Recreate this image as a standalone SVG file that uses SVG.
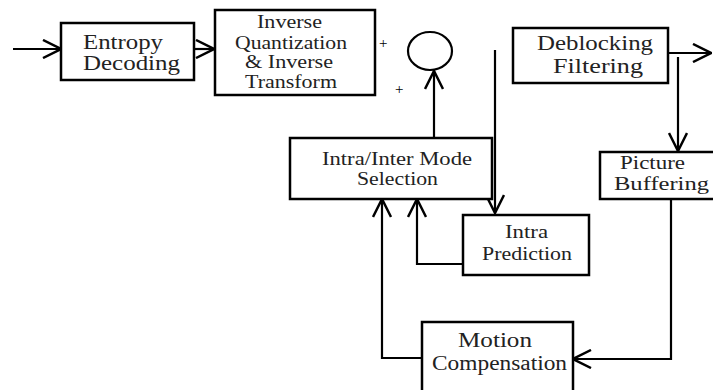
<svg xmlns="http://www.w3.org/2000/svg" width="713" height="390" viewBox="0 0 713 390">
<style>
.box{fill:#fff;stroke:#000;stroke-width:2.5}
.t{font-family:"Liberation Serif","Times New Roman",serif;fill:#222}
.c{fill:none;stroke:#000;stroke-width:2.2}
.a{marker-end:url(#ah)}
.p{font-family:"Liberation Serif",serif;font-size:15px;fill:#000}
</style>
<defs>
<marker id="ah" markerUnits="userSpaceOnUse" viewBox="0 0 20 20" refX="19" refY="10" markerWidth="20" markerHeight="20" orient="auto">
<path d="M1,1 L19,10 L1,19" fill="none" stroke="#000" stroke-width="2.5"/>
</marker>
</defs>
<rect width="713" height="390" fill="#fff"/>
<g id="connectors">
<line class="c a" x1="13" y1="49" x2="61" y2="49"/>
<line class="c a" x1="194" y1="49" x2="214" y2="49"/>
<line class="c a" x1="434" y1="138" x2="434" y2="71"/>
<line class="c a" x1="495" y1="50" x2="495" y2="213"/>
<line class="c a" x1="668" y1="53" x2="711" y2="53"/>
<line class="c a" x1="678" y1="57" x2="678" y2="151"/>
<polyline class="c a" points="671,199 671,359 573,359"/>
<polyline class="c a" points="421,358 382,358 382,199"/>
<polyline class="c a" points="462,264 417,264 417,199"/>
</g>
<g id="entropy">
<rect class="box" x="61" y="23" width="133" height="57"/>
<text class="t" x="83" y="49" font-size="20" textLength="80" lengthAdjust="spacingAndGlyphs">Entropy</text>
<text class="t" x="83" y="70" font-size="20" textLength="97" lengthAdjust="spacingAndGlyphs">Decoding</text>
</g>
<g id="inverse">
<rect class="box" x="215" y="10" width="160" height="85"/>
<text class="t" x="257" y="28" font-size="18" textLength="65" lengthAdjust="spacingAndGlyphs">Inverse</text>
<text class="t" x="235" y="49" font-size="18" textLength="112" lengthAdjust="spacingAndGlyphs">Quantization</text>
<text class="t" x="245" y="68" font-size="18" textLength="88" lengthAdjust="spacingAndGlyphs">&amp; Inverse</text>
<text class="t" x="245" y="88" font-size="18" textLength="92" lengthAdjust="spacingAndGlyphs">Transform</text>
</g>
<g id="adder">
<ellipse cx="430" cy="51" rx="22" ry="19" fill="none" stroke="#000" stroke-width="2.2"/>
<text class="p" x="379" y="48">+</text>
<text class="p" x="395" y="94">+</text>
</g>
<g id="deblocking">
<rect class="box" x="513" y="28" width="155" height="55"/>
<text class="t" x="537" y="50" font-size="20" textLength="116" lengthAdjust="spacingAndGlyphs">Deblocking</text>
<text class="t" x="553" y="73" font-size="20" textLength="90" lengthAdjust="spacingAndGlyphs">Filtering</text>
</g>
<g id="mode">
<rect class="box" x="290" y="138" width="202" height="61"/>
<text class="t" x="322" y="165" font-size="18" textLength="150" lengthAdjust="spacingAndGlyphs">Intra/Inter Mode</text>
<text class="t" x="357" y="185" font-size="18" textLength="81" lengthAdjust="spacingAndGlyphs">Selection</text>
</g>
<g id="picture">
<rect class="box" x="600" y="152" width="118" height="47"/>
<text class="t" x="620" y="169" font-size="19" textLength="65" lengthAdjust="spacingAndGlyphs">Picture</text>
<text class="t" x="614" y="190" font-size="19" textLength="95" lengthAdjust="spacingAndGlyphs">Buffering</text>
</g>
<g id="intra">
<rect class="box" x="463" y="215" width="126" height="60"/>
<text class="t" x="505" y="238" font-size="18" textLength="43" lengthAdjust="spacingAndGlyphs">Intra</text>
<text class="t" x="482" y="260" font-size="18" textLength="90" lengthAdjust="spacingAndGlyphs">Prediction</text>
</g>
<g id="motion">
<rect class="box" x="422" y="322" width="151" height="80"/>
<text class="t" x="458" y="347" font-size="20" textLength="74" lengthAdjust="spacingAndGlyphs">Motion</text>
<text class="t" x="432" y="370" font-size="20" textLength="135" lengthAdjust="spacingAndGlyphs">Compensation</text>
</g>
</svg>
